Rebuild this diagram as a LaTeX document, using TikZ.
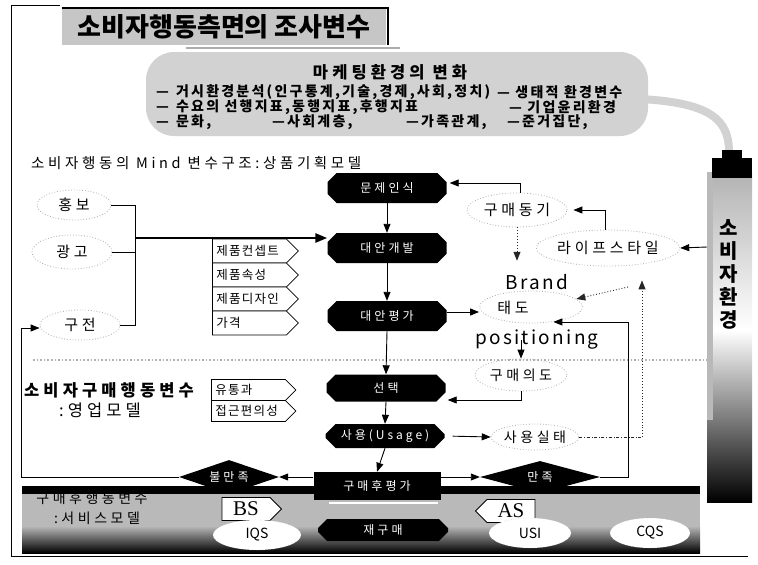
\documentclass[tikz,border=0pt]{standalone}
\usepackage{fontspec}
\setmainfont{Noto Sans CJK KR}
\newfontfamily\wide[LetterSpace=25]{Noto Sans CJK KR}
\newfontfamily\mkfont[LetterSpace=16]{Noto Sans CJK KR}
\newfontfamily\tagfont[LetterSpace=10]{Noto Sans CJK KR}
\newfontfamily\serifbs{Liberation Serif}
\usetikzlibrary{shapes.misc,shapes.symbols,shapes.geometric,arrows.meta,calc}
\tikzset{
  blk/.style={chamfered rectangle, chamfered rectangle xsep=7pt, fill=black, text=white, minimum width=119pt, minimum height=30pt, inner sep=0pt, font=\wide\fontsize{12}{12}\selectfont},
  tagbox/.style={signal, signal to=east, signal from=nowhere, draw, line width=0.8pt, fill=white, text width=66pt, align=left, minimum height=24pt, inner xsep=4pt, inner ysep=0pt, font=\tagfont\fontsize{12.5}{13}\selectfont},
  bsbox/.style={signal, draw, line width=0.8pt, fill=white, minimum height=23pt, text width=40pt, align=center, inner xsep=4pt, inner ysep=0pt, font=\serifbs\fontsize{21}{21}\selectfont},
  dell/.style={ellipse, draw=gray!65, dotted, line width=0.8pt, inner sep=0pt},
  arr/.style={-{Triangle[length=9pt,width=7pt]}, line width=0.9pt},
  darr/.style={-{Triangle[length=9pt,width=7pt]}, line width=0.9pt, dotted, draw=gray!30!black},
  mk/.style={anchor=west, inner sep=0pt, font=\mkfont\fontsize{14}{14}\selectfont\bfseries},
  lbl/.style={font=\wide\fontsize{15}{15}\selectfont},
}
\begin{document}
\begin{tikzpicture}[x=1pt,y=-1pt]
\useasboundingbox (0,0) rectangle (758,565);
% ---------- backgrounds ----------
\draw[line width=0.8pt] (60,5) -- (11,5) -- (11,556) -- (748,556);
% title
\fill[gray!45] (62,8) rectangle (386,45);
\draw[line width=2pt] (62,8) -- (388,8) -- (388,45);
\draw[gray!65, line width=2.5pt] (186,48) -- (400,48);
% marketing environment box
\fill[gray!35, rounded corners=28pt] (146,52) rectangle (648,136);
% curved band to the right column
\draw[gray!35, line width=8pt] (600,98) .. controls (700,98) and (729,112) .. (729,152);
% right column
\shade[top color=gray!60, bottom color=white] (707,172) rectangle (752,330);
\shade[top color=white, bottom color=black] (707,330) rectangle (752,502);
\fill[gray!55] (707,172) rectangle (713,420);
\fill[black] (712,158) rectangle (752,178);
\fill[black] (722,150) rectangle (742,160);
% divider
\draw[gray!60, dotted, line width=1.6pt] (33,360) -- (707,360);
% bottom band
\fill[gray!55] (22,486) rectangle (700,553);
\shade[top color=gray!55, bottom color=black] (22,526) rectangle (700,553);
\fill[black] (22,486) rectangle (700,494);
% ---------- texts ----------
\node[font=\fontsize{26}{26}\selectfont\bfseries] (title) at (224,27) {소비자행동측면의 조사변수};
\node[font=\wide\fontsize{16.5}{17}\selectfont\bfseries] (mkt) at (390,72) {마케팅환경의 변화};
\node[mk] (m1) at (156,92) {—\hspace{7pt}거시환경분석(인구통계,기술,경제,사회,정치)};
\node[mk] (m2) at (497,92) {— 생태적 환경변수};
\node[mk] (m3) at (156,107) {—\hspace{7pt}수요의 선행지표,동행지표,후행지표};
\node[mk] (m4) at (509,107) {— 기업윤리환경};
\node[mk] (m5) at (156,122) {—\hspace{7pt}문화,};
\node[mk] (m6) at (272,122) {—사회계층,};
\node[mk] (m7) at (406,122) {—가족관계,};
\node[mk] (m8) at (507,122) {—준거집단,};
\node[align=center, font=\fontsize{20}{23}\selectfont\bfseries] (col) at (729,274) {소\\비\\자\\환\\경};
\node[anchor=west, inner sep=0pt, font=\wide\fontsize{14.5}{15}\selectfont] (h1) at (31,163) {소비자행동의 Mind 변수구조:상품기획모델};
\node[font=\wide\fontsize{16.5}{17}\selectfont\bfseries] (h2) at (109,390) {소비자구매행동변수};
\node[font=\wide\fontsize{16.5}{17}\selectfont] (h2b) at (100,410) {:영업모델};
\node[font=\wide\fontsize{14}{15}\selectfont] (h3) at (92,498) {구매후행동변수};
\node[font=\wide\fontsize{14}{15}\selectfont] (h3b) at (97,518) {:서비스모델};
% left ellipses
\node[dell, lbl, minimum width=74pt, minimum height=30pt] (hb) at (74,205) {홍보};
\node[dell, lbl, minimum width=80pt, minimum height=34pt] (gg) at (72,252) {광고};
\node[dell, lbl, minimum width=80pt, minimum height=30pt] (gj) at (80,325) {구전};
% tags
\node[tagbox, anchor=west] (t1) at (212,251) {제품컨셉트};
\node[tagbox, anchor=west] (t2) at (212,275) {제품속성};
\node[tagbox, anchor=west] (t3) at (212,299) {제품디자인};
\node[tagbox, anchor=west] (t4) at (212,323) {가격};
\node[tagbox, anchor=west, minimum height=21pt] (t5) at (211,390) {유통과};
\node[tagbox, anchor=west, minimum height=21pt] (t6) at (211,411) {접근편의성};
% process boxes
\node[blk] (n1) at (387,188) {문제인식};
\node[blk] (n2) at (387,248) {대안개발};
\node[blk] (n3) at (387,316) {대안평가};
\node[blk, minimum height=27pt] (n4) at (386,388) {선택};
\node[blk, minimum height=24pt] (n5) at (385,436) {사용(Usage)};
\node[fill=black, text=white, minimum width=127pt, minimum height=28pt, inner sep=0pt, font=\wide\fontsize{12}{12}\selectfont] (n6) at (377,486) {구매후평가};
\draw[white, line width=1.5pt] ([xshift=16pt,yshift=-3pt]n6.south west) -- ([xshift=-3pt,yshift=-3pt]n6.south east);
\node[blk, minimum width=130pt, minimum height=22pt] (n7) at (383,530) {재구매};
\node[diamond, aspect=3, fill=black, text=white, minimum width=100pt, minimum height=34pt, inner sep=0pt, font=\wide\fontsize{12}{12}\selectfont] (d1) at (229,477) {불만족};
\node[diamond, aspect=3.6, fill=black, text=white, minimum width=120pt, minimum height=32pt, inner sep=0pt, font=\wide\fontsize{12}{12}\selectfont] (d2) at (540,477) {만족};
% BS / AS
\node[bsbox, signal to=east, signal from=nowhere] (bs) at (246,509) {BS};
\node[bsbox, signal to=west, signal from=nowhere] (as) at (511,511) {AS};
% bottom ellipses
\node[ellipse, fill=white, draw=gray!60, dotted, minimum width=88pt, minimum height=30pt, font=\fontsize{14}{14}\selectfont] (iqs) at (257,535) {IQS};
\node[ellipse, fill=white, draw=gray!60, dotted, minimum width=82pt, minimum height=30pt, font=\fontsize{14}{14}\selectfont] (usi) at (530,533) {USI};
\node[ellipse, fill=white, draw=gray!60, dotted, minimum width=80pt, minimum height=30pt, font=\fontsize{14}{14}\selectfont] (cqs) at (650,533) {CQS};
% right side
\node[dell, lbl, minimum width=100pt, minimum height=34pt] (gm) at (517,210) {구매동기};
\node[dell, lbl, minimum width=135pt, minimum height=36pt] (ls) at (608,248) {라이프스타일};
\node[font=\fontsize{19}{19}\selectfont\addfontfeatures{LetterSpace=12}] (brand) at (537,282) {Brand};
\node[dell, minimum width=103pt, minimum height=32pt] (tdE) at (531,307) {};
\node[lbl] (td) at (513,308) {태도};
\node[font=\fontsize{19}{19}\selectfont\addfontfeatures{LetterSpace=12}] (pos) at (537,340) {positioning};
\node[dell, font=\wide\fontsize{14}{14}\selectfont, minimum width=92pt, minimum height=32pt] (gy) at (521,375) {구매의도};
\node[dell, font=\wide\fontsize{14}{14}\selectfont, minimum width=84pt, minimum height=26pt] (sy) at (535,437) {사용실태};
% ---------- connectors ----------
\coordinate (b1) at (135,205);
\coordinate (b3) at (135,325);
\coordinate (bm) at (135,238);
\draw[line width=0.9pt] (hb.east) -- (hb.east -| b1) -- (b3) -- (gj.east);
\draw[line width=0.9pt] (gg.east) -- (gg.east -| b1);
\draw[-{Triangle[length=12pt,width=9pt]}, line width=2.6pt] (bm) -- (n2.west |- bm);
\draw[arr] (n1.south) -- (n2.north);
\draw[arr] (n2.south) -- (n3.north);
\draw[arr] (n3.south) -- (n4.north);
\draw[arr] (n4.south) -- (n5.north);
\draw[arr] (n5.south) -- (n6.north);
\draw[arr, shorten >=3pt] ([xshift=3pt]gm.north) |- ([yshift=5pt]n1.east);
\draw[arr, shorten >=6pt] ([xshift=-3pt]ls.north) |- (gm.east);
\coordinate (colL) at (707,247);
\draw[arr] (colL) -- (ls.east);
\draw[darr, shorten >=10pt] (gm.south) -- (gm.south |- brand.north);
\coordinate (lsd) at (628,287);
\draw[darr] (lsd) -- (tdE.10);
\draw[arr] ([yshift=4pt]n3.east) -- ([yshift=4pt]n3.east -| tdE.west);
\draw[arr, shorten >=1pt] (d2.east) -| ($(tdE.-35)+(76,0)$) -- (tdE.-35);
\draw[arr] (gy.north |- pos.center) -- (gy.north);
\draw[arr, shorten >=2pt] (gy.south) |- ([yshift=-12pt]n4.east);
\draw[arr, shorten <=8pt] (n5.east) -- (sy.west);
\coordinate (dv) at (642,437);
\draw[dash dot, line width=0.8pt, gray!30!black] (sy.east) -- (dv);
\draw[darr, shorten >=14pt] (dv) -- (ls.south -| dv);
\draw[arr] (n6.west |- d1.east) -- (d1.east);
\draw[arr] (n6.east |- d2.west) -- (d2.west);
\coordinate (rt) at (21,328);
\draw[arr] (d1.west) -- (d1.west -| rt) -- (rt) -- (gj.west |- rt);
\end{tikzpicture}
\end{document}
